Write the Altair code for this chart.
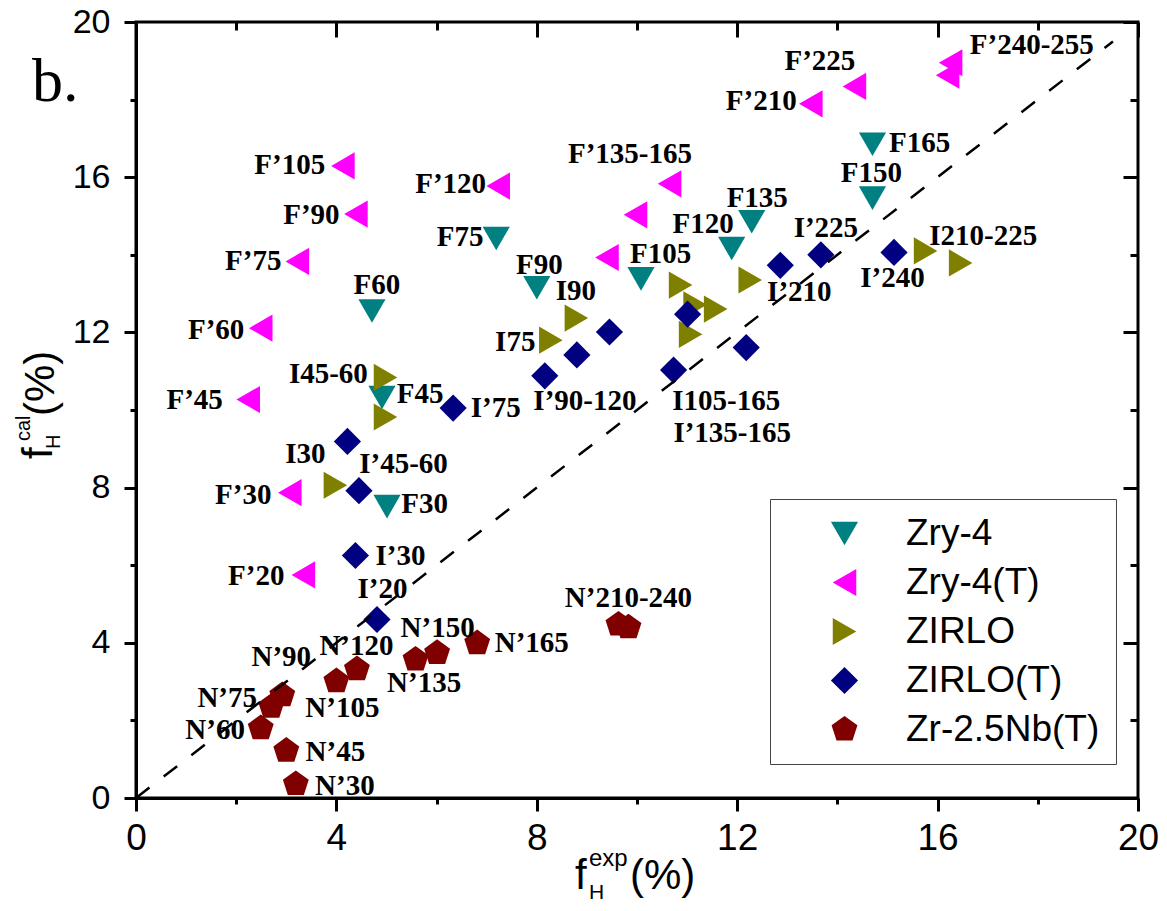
import altair as alt
import pandas as pd

# ---------------- data ----------------
series_names = ["Zry-4", "Zry-4(T)", "ZIRLO", "ZIRLO(T)", "Zr-2.5Nb(T)"]

zry4_x = [5.01, 4.91, 4.71, 7.19, 8.00, 10.08, 11.89, 12.29, 14.70, 14.70]
zry4_y = [7.51, 10.32, 12.55, 14.42, 13.15, 13.38, 14.16, 14.85, 15.46, 16.85]

zry4t_x = [3.34, 3.07, 2.24, 2.49, 3.22, 4.39, 4.13, 7.23, 9.40, 9.97, 10.65, 13.47, 14.34, 16.26, 16.20]
zry4t_y = [5.75, 7.87, 10.27, 12.11, 13.83, 15.05, 16.29, 15.77, 13.93, 15.03, 15.83, 17.89, 18.34, 18.95, 18.63]

zirlo_x = [3.98, 4.98, 4.98, 8.28, 8.79, 10.87, 11.16, 11.57, 11.07, 12.26, 15.76, 16.46]
zirlo_y = [8.06, 9.82, 10.84, 11.80, 12.37, 13.22, 12.71, 12.60, 11.95, 13.35, 14.10, 13.79]

zirlot_x = [4.81, 4.38, 4.45, 4.22, 6.33, 8.16, 8.80, 9.45, 10.73, 11.01, 12.18, 12.86, 13.67, 15.13]
zirlot_y = [4.60, 6.25, 7.92, 9.19, 10.05, 10.88, 11.42, 12.01, 11.03, 12.47, 11.61, 13.73, 14.00, 14.06]

nb_x = [3.19, 3.00, 2.49, 2.70, 2.92, 4.00, 4.41, 5.58, 6.01, 6.81, 9.63, 9.83]
nb_y = [0.36, 1.22, 1.80, 2.35, 2.65, 3.01, 3.32, 3.57, 3.74, 3.99, 4.47, 4.40]

lab_text = ["F’105", "F’120", "F’135-165", "F’90", "F75", "F’75", "F90", "F60", "I90", "F’60",
            "I75", "I45-60", "F’45", "F45", "I’75", "I’90-120", "F’240-255", "F’225", "F’210", "F165",
            "F150", "F135", "F120", "I’225", "I210-225", "F105", "I’210", "I’240", "I105-165", "I’135-165",
            "I30", "I’45-60", "F’30", "F30", "I’30", "F’20", "I’20", "N’210-240", "N’150", "N’165",
            "N’120", "N’90", "N’135", "N’75", "N’105", "N’60", "N’45", "N’30"]
lab_x = [3.07, 6.28, 9.86, 3.50, 6.47, 2.34, 8.05, 4.81, 8.78, 1.60,
         7.57, 3.84, 1.17, 5.67, 7.18, 8.96, 17.88, 13.65, 12.48, 15.64,
         14.68, 12.40, 11.32, 13.77, 16.91, 10.47, 13.24, 15.10, 11.78, 11.90,
         3.38, 5.34, 2.14, 5.76, 5.28, 2.40, 4.92, 9.83, 6.02, 7.90,
         4.40, 2.90, 5.75, 1.82, 4.12, 1.58, 3.98, 4.17]
lab_y = [16.32, 15.83, 16.60, 15.02, 14.46, 13.83, 13.74, 13.21, 13.07, 12.07,
         11.76, 10.92, 10.25, 10.42, 10.04, 10.24, 19.42, 18.99, 17.97, 16.89,
         16.12, 15.47, 14.79, 14.68, 14.48, 14.03, 13.05, 13.40, 10.23, 9.40,
         8.87, 8.62, 7.80, 7.58, 6.25, 5.73, 5.39, 5.16, 4.38, 3.99,
         3.93, 3.63, 2.97, 2.57, 2.31, 1.74, 1.18, 0.32]

diag_vals = [0.0, 19.5]
major_ticks = [0, 4, 8, 12, 16, 20]
minor_ticks = [2, 6, 10, 14, 18]

# ---------------- tables ----------------
rows = []
for name, xs, ys in zip(series_names,
                        [zry4_x, zry4t_x, zirlo_x, zirlot_x, nb_x],
                        [zry4_y, zry4t_y, zirlo_y, zirlot_y, nb_y]):
    for a, b in zip(xs, ys):
        rows.append({"series": name, "fexp": a, "fcal": b})
pts = pd.DataFrame(rows)
labdf = pd.DataFrame({"lab": lab_text, "lx": lab_x, "ly": lab_y})
diag = pd.DataFrame({"fexp": diag_vals, "fcal": diag_vals})
one = pd.DataFrame({"k": [0]})

PENTAGON = "M0,-1L0.951,-0.309L0.588,0.809L-0.588,0.809L-0.951,-0.309Z"
shapes = ["triangle-down", "triangle-left", "triangle-right", "diamond", PENTAGON]
colors = ["#008080", "#FF00FF", "#808000", "#000080", "#800000"]

XS = alt.Scale(domain=[0, 20], nice=False, zero=False)
YS = alt.Scale(domain=[0, 20], nice=False, zero=False)


def tick_axis(orient, values, size, offset=0):
    return alt.Axis(orient=orient, values=values, tickSize=size, tickWidth=3,
                    tickColor="black", labels=False, domain=False, grid=False,
                    title=None, offset=offset)


x_main = alt.Axis(orient="bottom", values=major_ticks, tickSize=13, tickWidth=3, tickColor="black",
                  labelFont="Liberation Sans", labelFontSize=37, labelColor="black",
                  labelPadding=9, labelFlush=False, labelOverlap=False,
                  domainColor="black", domainWidth=3, grid=False, title=None)
y_main = alt.Axis(orient="left", values=major_ticks, tickSize=12, tickWidth=3, tickColor="black",
                  labelFont="Liberation Sans", labelFontSize=34, labelColor="black",
                  labelPadding=14, labelFlush=False, labelOverlap=False,
                  domainColor="black", domainWidth=3, grid=False, title=None)

legend = alt.Legend(title=None, orient="none", legendX=634, legendY=477,
                    fillColor="white", strokeColor="#444444", padding=16,
                    labelFont="Liberation Sans", labelFontSize=37, labelColor="black",
                    labelLimit=400, symbolSize=740, symbolStrokeWidth=0,
                    symbolOffset=40, labelOffset=43, rowPadding=11)

points = alt.Chart(pts).mark_point(filled=True, opacity=1, size=740, strokeWidth=0).encode(
    x=alt.X("fexp:Q", scale=XS, axis=x_main),
    y=alt.Y("fcal:Q", scale=YS, axis=y_main),
    color=alt.Color("series:N", scale=alt.Scale(domain=series_names, range=colors), legend=legend),
    shape=alt.Shape("series:N", scale=alt.Scale(domain=series_names, range=shapes), legend=legend),
)

line = alt.Chart(diag).mark_line(color="black", strokeDash=[17, 18], strokeWidth=2.5).encode(
    x=alt.X("fexp:Q", scale=XS, axis=tick_axis("bottom", minor_ticks, 6)),
    y=alt.Y("fcal:Q", scale=YS, axis=tick_axis("left", minor_ticks, 6)),
)

labels = alt.Chart(labdf).mark_text(font="Liberation Serif", fontWeight="bold", fontSize=29,
                                    color="black", align="center", baseline="middle").encode(
    x=alt.X("lx:Q", scale=XS, axis=tick_axis("top", major_ticks, 15, -15)),
    y=alt.Y("ly:Q", scale=YS, axis=tick_axis("right", major_ticks, 15, -15)),
    text="lab:N",
)

ghost = alt.Chart(diag).mark_point(opacity=0).encode(
    x=alt.X("fexp:Q", scale=XS, axis=tick_axis("top", minor_ticks, 8, -8)),
    y=alt.Y("fcal:Q", scale=YS, axis=tick_axis("right", minor_ticks, 8, -8)),
)


def note(text, px, py, size, font="Liberation Sans", angle=0):
    return alt.Chart(one).mark_text(text=text, font=font, fontSize=size, angle=angle,
                                    align="left", baseline="alphabetic", color="black").encode(
        x=alt.value(px), y=alt.value(py))


notes = [
    note("b.", -104, 79, 62, font="Liberation Serif"),
    # x title  f_H^exp(%)
    note("f", 439, 867, 42),
    note("exp", 453, 844, 24),
    note("H", 453, 877, 21),
    note("(%)", 494, 867, 42),
    # y title  f_H^cal(%)
    note("f", -84, 437, 42, angle=270),
    note("cal", -106, 419, 20, angle=270),
    note("H", -76, 427, 20, angle=270),
    note("(%)", -82, 394, 42, angle=270),
]

chart = alt.layer(points, line, labels, ghost, *notes).resolve_axis(
    x="independent", y="independent"
).properties(
    width=1002, height=776,
    autosize=alt.AutoSizeParams(type="none"),
    padding={"left": 128, "top": 14, "right": 21, "bottom": 105},
).configure_view(stroke="black", strokeWidth=3)

chart.save("out.html", embed_options={"renderer": "svg", "actions": False})
